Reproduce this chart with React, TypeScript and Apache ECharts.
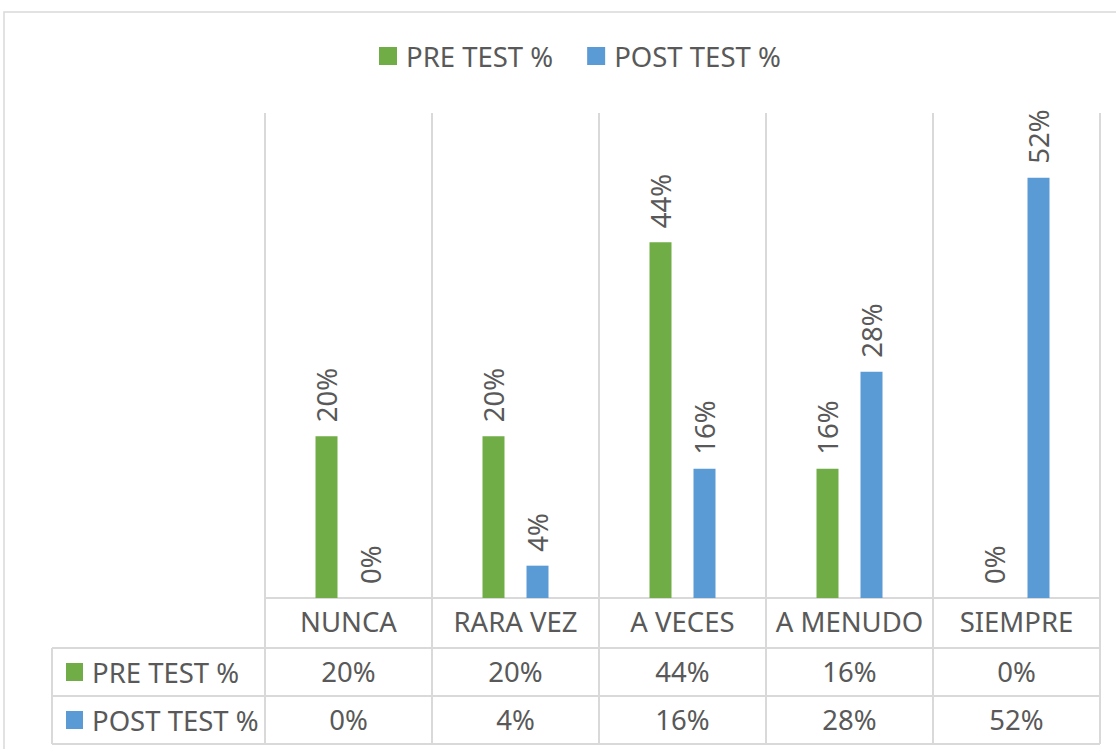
import React, { useEffect, useRef } from "react";
import * as echarts from "echarts";

const categories = ["NUNCA", "RARA VEZ", "A VECES", "A MENUDO", "SIEMPRE"];
const preTest = [20, 20, 44, 16, 0];
const postTest = [0, 4, 16, 28, 52];
const seriesNames = ["PRE TEST %", "POST TEST %"];
const colors = ["#70ad47", "#5b9bd5"];

const W = 1116;
const H = 749;
const gridLeft = 265;
const gridRight = 1100;
const gridTop = 113;
const axisY = 598;
const rowH = 48;
const tableLeft = 52;
const FONT = "'Noto Sans', sans-serif";
const TXT = "#595959";
const LINE = "#d9d9d9";

export default function App() {
  const ref = useRef<HTMLDivElement>(null);
  useEffect(() => {
    if (!ref.current) return;
    const chart = echarts.init(ref.current, undefined, { renderer: "svg" });
    const fs = 27.5;
    const row1 = axisY + 50;
    const row2 = row1 + rowH;
    const row3 = row2 + rowH;
    const graphic: any[] = [
      {
        type: "rect",
        shape: { x: 4, y: 12, width: 1300, height: 900 },
        style: { fill: "none", stroke: LINE, lineWidth: 1.5 },
        silent: true,
      },
      ...[row1, row2, row3].map((y) => ({
        type: "line",
        shape: { x1: tableLeft, y1: y, x2: gridRight, y2: y },
        style: { stroke: LINE, lineWidth: 2 },
      })),
      {
        type: "line",
        shape: { x1: tableLeft, y1: row1, x2: tableLeft, y2: row3 },
        style: { stroke: LINE, lineWidth: 2 },
      },
      ...seriesNames.flatMap((name, i) => {
        const cy = row1 + rowH * i + rowH / 2;
        return [
          {
            type: "rect",
            shape: { x: 66, y: cy - 9, width: 17, height: 18 },
            style: { fill: colors[i] },
          },
          {
            type: "text",
            x: 92,
            y: cy,
            style: {
              text: name,
              fill: TXT,
              fontSize: fs,
              fontFamily: FONT,
              verticalAlign: "middle",
              align: "left",
            },
          },
        ];
      }),
    ];

    const tableAxis = (vals: number[], offset: number) => ({
      type: "category",
      data: categories,
      position: "bottom",
      offset,
      axisLine: { show: false },
      axisTick: { show: false },
      splitLine: { show: false },
      axisLabel: {
        interval: 0,
        margin: 10,
        fontSize: fs,
        lineHeight: fs,
        fontFamily: FONT,
        color: TXT,
        formatter: (_v: string, i: number) => vals[i] + "%",
      },
    });

    chart.setOption({
      animation: false,
      backgroundColor: "#fff",
      color: colors,
      legend: {
        top: 37,
        left: 374,
        icon: "rect",
        itemWidth: 18,
        itemHeight: 18,
        itemGap: 34,
        textStyle: {
          fontSize: fs,
          fontFamily: FONT,
          color: TXT,
          padding: [0, 0, 0, 4],
        },
        data: seriesNames,
      },
      grid: {
        left: gridLeft,
        right: W - gridRight,
        top: gridTop,
        bottom: H - axisY,
        containLabel: false,
      },
      xAxis: [
        {
          type: "category",
          data: categories,
          position: "bottom",
          axisLine: { show: true, lineStyle: { color: LINE, width: 2 } },
          axisTick: {
            show: true,
            length: row3 - axisY,
            lineStyle: { color: LINE, width: 2 },
          },
          splitLine: { show: true, lineStyle: { color: LINE, width: 2 } },
          axisLabel: {
            interval: 0,
            margin: 10,
            fontSize: fs,
            lineHeight: fs,
            fontFamily: FONT,
            color: TXT,
          },
        },
        tableAxis(preTest, 50),
        tableAxis(postTest, 98),
      ],
      yAxis: {
        type: "value",
        min: 0,
        max: 60,
        show: false,
        splitLine: { show: false },
      },
      series: [preTest, postTest].map((d, i) => ({
        name: seriesNames[i],
        type: "bar",
        data: d,
        barWidth: 22,
        barGap: "100%",
        label: {
          show: true,
          position: "top",
          rotate: 90,
          align: "left",
          verticalAlign: "middle",
          distance: 14,
          formatter: "{c}%",
          fontSize: fs,
          fontFamily: FONT,
          color: TXT,
        },
      })),
      graphic,
    });
    return () => chart.dispose();
  }, []);
  return (
    <div
      ref={ref}
      style={{ position: "fixed", left: 0, top: 0, width: W, height: H }}
    />
  );
}
